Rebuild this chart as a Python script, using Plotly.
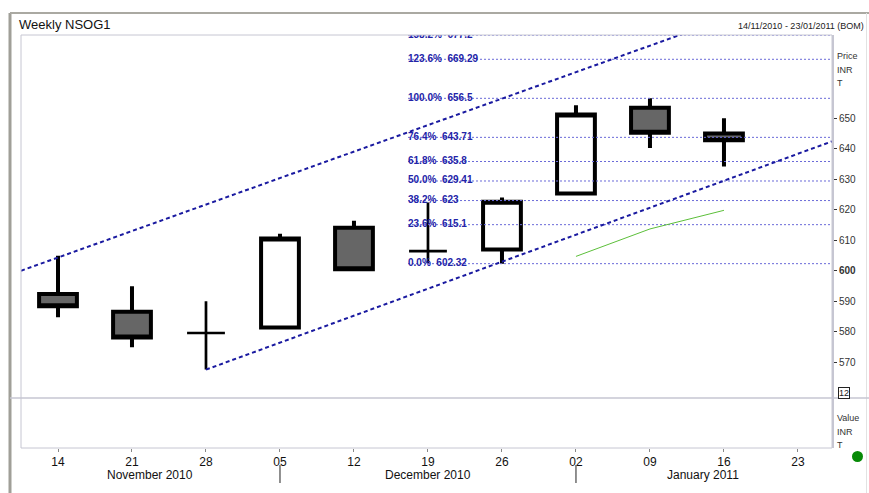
import plotly.graph_objects as go

# ---------------- data ----------------
week_labels = ["14", "21", "28", "05", "12", "19", "26", "02", "09", "16", "23"]
week_idx = list(range(len(week_labels)))

open_ = [592.4, 586.6, 579.6, 581.4, 614.1, 606.4, 607.0, 625.3, 653.4, 645.0]
high_ = [604.9, 594.9, 590.0, 612.1, 616.4, 622.4, 624.0, 654.2, 656.5, 650.0]
low_ = [584.8, 574.9, 567.6, 581.4, 600.5, 602.5, 602.32, 625.3, 640.2, 634.2]
close_ = [588.4, 578.1, 579.6, 610.6, 600.5, 606.4, 622.6, 651.2, 645.2, 642.8]

fib_pcts = ["0.0%", "23.6%", "38.2%", "50.0%", "61.8%", "76.4%", "100.0%", "123.6%", "138.2%"]
fib_values = [602.32, 615.1, 623, 629.41, 635.8, 643.71, 656.5, 669.29, 677.2]
fib_value_text = ["602.32", "615.1", "623", "629.41", "635.8", "643.71", "656.5", "669.29", "677.2"]

upper_channel_x = [-0.5, 10.46]
upper_channel_y = [600.0, 695.1]
lower_channel_x = [2, 10.46]
lower_channel_y = [567.6, 642.4]

green_x = [7, 8, 9]
green_y = [604.7, 613.7, 619.8]

price_ticks = [570, 580, 590, 600, 610, 620, 630, 640, 650]

month_labels = ["November 2010", "December 2010", "January 2011"]
month_pos = [1.24, 5.0, 8.72]
month_separators = [3, 7]

FONT = "Arial, Liberation Sans, sans-serif"

# ---------------- geometry (screen pixels; body margin removed by post_script) ----------------
SW, SH = 869, 493
PL, PR, PT, PB = 21, 832, 35, 448   # plot area in screen pixels
PW = PR - PL
PH = PB - PT


def px(x):
    return (x - PL) / PW


def py(y):
    return (PB - y) / PH


split = py(398)

fig = go.Figure()

# fib lines
fx, fy = [], []
for v in fib_values:
    fx += [4.73, 10.46, None]
    fy += [v, v, None]
fig.add_trace(go.Scatter(x=fx, y=fy, mode="lines",
                         line=dict(color="#6a6ad8", width=1, dash="2px,2px"),
                         hoverinfo="skip", showlegend=False))

# channel lines
fig.add_trace(go.Scatter(x=upper_channel_x, y=upper_channel_y, mode="lines",
                         line=dict(color="#1a1aa0", width=2, dash="4px,3px"),
                         showlegend=False, hoverinfo="skip"))
fig.add_trace(go.Scatter(x=lower_channel_x, y=lower_channel_y, mode="lines",
                         line=dict(color="#1a1aa0", width=2, dash="4px,3px"),
                         showlegend=False, hoverinfo="skip"))

# green indicator line
fig.add_trace(go.Scatter(x=green_x, y=green_y, mode="lines",
                         line=dict(color="#5cbf3a", width=1),
                         showlegend=False, hoverinfo="skip"))

# candles (non-doji / doji split)
reg = [i for i in range(len(open_)) if open_[i] != close_[i]]
doji = [i for i in range(len(open_)) if open_[i] == close_[i]]

fig.add_trace(go.Candlestick(
    x=[week_idx[i] for i in reg],
    open=[open_[i] for i in reg], high=[high_[i] for i in reg],
    low=[low_[i] for i in reg], close=[close_[i] for i in reg],
    increasing=dict(line=dict(color="black", width=4), fillcolor="white"),
    decreasing=dict(line=dict(color="black", width=4), fillcolor="#666666"),
    whiskerwidth=0, showlegend=False, hoverinfo="skip"))
fig.add_trace(go.Candlestick(
    x=[week_idx[i] for i in doji],
    open=[open_[i] for i in doji], high=[high_[i] for i in doji],
    low=[low_[i] for i in doji], close=[close_[i] for i in doji],
    increasing=dict(line=dict(color="black", width=2.7), fillcolor="white"),
    decreasing=dict(line=dict(color="black", width=2.7), fillcolor="white"),
    whiskerwidth=0, showlegend=False, hoverinfo="skip"))

# fib labels (clipped at plot edge)
fig.add_trace(go.Scatter(
    x=[4.73] * len(fib_values), y=fib_values, mode="text",
    text=[f"<b>{p}  {t}</b>" for p, t in zip(fib_pcts, fib_value_text)],
    textposition="middle right",
    textfont=dict(family=FONT, size=10, color="#2323a8"),
    cliponaxis=True, showlegend=False, hoverinfo="skip"))

# markers on the right axis
fig.add_trace(go.Scatter(x=[10.52], y=[lower_channel_y[-1]], mode="markers",
                         marker=dict(symbol="diamond", size=8, color="black"),
                         cliponaxis=False, showlegend=False, hoverinfo="skip"))
fig.add_trace(go.Scatter(x=[10.52], y=[green_y[-1]], mode="markers",
                         marker=dict(symbol="diamond", size=8, color="#44b020"),
                         cliponaxis=False, showlegend=False, hoverinfo="skip"))

# empty trace for lower panel
fig.add_trace(go.Scatter(x=[None], y=[None], yaxis="y2", showlegend=False))

tick_text = [("<b>%d</b>" % t) if t == 600 else str(t) for t in price_ticks]

shapes = [
    # outer frame
    dict(type="line", xref="paper", yref="paper", x0=px(10), x1=px(10), y0=py(13), y1=py(500),
         line=dict(color="#a09f98", width=3)),
    dict(type="line", xref="paper", yref="paper", x0=px(10), x1=px(869), y0=py(13), y1=py(13),
         line=dict(color="#aaa9a2", width=2)),
    dict(type="line", xref="paper", yref="paper", x0=px(866.5), x1=px(866.5), y0=py(13), y1=py(500),
         line=dict(color="#e2e2e2", width=1)),
    # plot frame
    dict(type="rect", xref="paper", yref="paper", x0=0, x1=1, y0=0, y1=1,
         line=dict(color="#c6c6d2", width=1)),
    # panel separator
    dict(type="line", xref="paper", yref="paper", x0=px(10), x1=px(869), y0=split, y1=split,
         line=dict(color="#c6c6d2", width=1.5)),
]
for s in month_separators:
    shapes.append(dict(type="line", xref="x", yref="paper", x0=s, x1=s, y0=py(465), y1=py(483),
                       line=dict(color="#222222", width=1)))

annotations = [
    dict(text="Weekly NSOG1", xref="paper", yref="paper", x=px(17), y=py(25),
         xanchor="left", yanchor="middle", showarrow=False,
         font=dict(family=FONT, size=13, color="#111111")),
    dict(text="14/11/2010 - 23/01/2011 (BOM)", xref="paper", yref="paper", x=px(866), y=py(26),
         xanchor="right", yanchor="middle", showarrow=False,
         font=dict(family=FONT, size=9, color="#222222")),
    dict(text="12", xref="paper", yref="paper", x=px(838), y=py(393.3),
         xanchor="left", yanchor="middle", showarrow=False, bordercolor="#222222",
         borderwidth=1, borderpad=0, bgcolor="white",
         font=dict(family=FONT, size=9, color="#222222")),
]
for i, t in enumerate(["Price", "INR", "T"]):
    annotations.append(dict(text=t, xref="paper", yref="paper", x=px(835.5), y=py(56 + 13.5 * i),
                            xanchor="left", yanchor="middle", showarrow=False,
                            font=dict(family=FONT, size=9, color="#333333")))
for i, t in enumerate(["Value", "INR", "T"]):
    annotations.append(dict(text=t, xref="paper", yref="paper", x=px(835.5), y=py(418 + 13.5 * i),
                            xanchor="left", yanchor="middle", showarrow=False,
                            font=dict(family=FONT, size=9, color="#333333")))
for m, p in zip(month_labels, month_pos):
    annotations.append(dict(text=m, xref="x", yref="paper", x=p, y=py(475.5),
                            xanchor="center", yanchor="middle", showarrow=False,
                            font=dict(family=FONT, size=12, color="#111111")))

shapes.append(dict(type="circle", xref="paper", yref="paper",
                   x0=px(852), x1=px(863), y0=py(451), y1=py(462),
                   fillcolor="#078a07", line=dict(color="#078a07", width=0)))

fig.update_layout(
    width=SW, height=SH,
    margin=dict(l=PL, r=SW - PR, t=PT, b=SH - PB, pad=0),
    paper_bgcolor="white", plot_bgcolor="white",
    boxgap=0.27,
    showlegend=False,
    xaxis=dict(range=[-0.5, 10.46], tickvals=week_idx, ticktext=week_labels,
               anchor="y2", showgrid=False, zeroline=False, showline=False,
               ticks="outside", ticklen=3, tickcolor="#888888",
               tickfont=dict(family=FONT, size=12, color="#111111"),
               rangeslider=dict(visible=False), fixedrange=True),
    yaxis=dict(domain=[split, 1], range=[558.3, 677.25], side="right",
               tickvals=price_ticks, ticktext=tick_text,
               ticks="outside", ticklen=3, tickcolor="#333333",
               tickfont=dict(family=FONT, size=10, color="#333333"),
               showgrid=False, zeroline=False,
               showline=True, linecolor="#c6c6d2", linewidth=2),
    yaxis2=dict(domain=[0, split], range=[0, 1], side="right", showticklabels=False,
                ticks="", showgrid=False, zeroline=False,
                showline=True, linecolor="#c6c6d2", linewidth=2),
    shapes=shapes,
    annotations=annotations,
)

fig.write_html(
    "out.html",
    config={"displayModeBar": False},
    post_script="document.body.style.margin='0px';"
                "document.documentElement.style.overflow='hidden';"
                "document.body.style.overflow='hidden';",
)
